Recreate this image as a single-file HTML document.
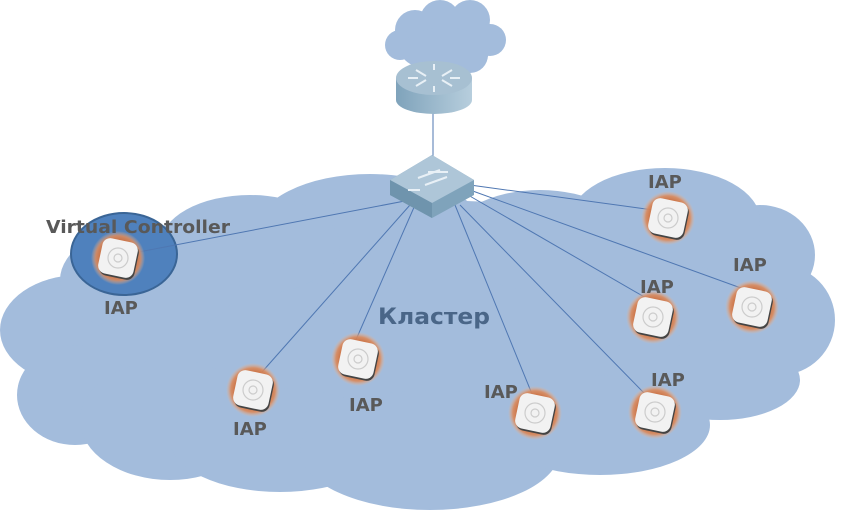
<!DOCTYPE html>
<html><head><style>
html,body{margin:0;padding:0;background:#fff;width:857px;height:513px;overflow:hidden}
text{font-family:"DejaVu Sans","Liberation Sans",sans-serif;font-weight:bold}
</style></head><body>
<svg width="857" height="513" viewBox="0 0 857 513" xmlns="http://www.w3.org/2000/svg">
<defs>
<radialGradient id="glow"><stop offset="0.6" stop-color="#c8693a"/><stop offset="0.82" stop-color="#db8a5c" stop-opacity="0.9"/><stop offset="1" stop-color="#e9b896" stop-opacity="0"/></radialGradient>
<linearGradient id="rt" x1="0" x2="1"><stop offset="0" stop-color="#7fa3bb"/><stop offset="1" stop-color="#b7cedd"/></linearGradient>
<g id="ap">
<circle r="27" fill="url(#glow)"/>
<rect x="-18" y="-18" width="36" height="36" rx="8" fill="#444" transform="translate(1,2) rotate(12)"/>
<rect x="-18" y="-18" width="36" height="36" rx="8" fill="#f2f2f2" transform="rotate(12)"/>
<circle r="10" fill="none" stroke="#ccc" stroke-width="1.2"/>
<circle r="4" fill="none" stroke="#ccc" stroke-width="1.2"/>
</g>
</defs>
<g fill="#a3bcdc">
<ellipse cx="420" cy="330" rx="380" ry="130"/>
<ellipse cx="80" cy="330" rx="80" ry="55"/>
<ellipse cx="75" cy="395" rx="58" ry="50"/>
<ellipse cx="170" cy="420" rx="90" ry="60"/>
<ellipse cx="280" cy="440" rx="110" ry="52"/>
<ellipse cx="430" cy="450" rx="130" ry="60"/>
<ellipse cx="600" cy="425" rx="110" ry="50"/>
<ellipse cx="720" cy="380" rx="80" ry="40"/>
<ellipse cx="780" cy="320" rx="55" ry="55"/>
<ellipse cx="760" cy="255" rx="55" ry="50"/>
<ellipse cx="665" cy="220" rx="95" ry="52"/>
<ellipse cx="540" cy="240" rx="90" ry="50"/>
<ellipse cx="370" cy="232" rx="115" ry="58"/>
<ellipse cx="250" cy="245" rx="90" ry="50"/>
<ellipse cx="150" cy="280" rx="90" ry="55"/>
<circle cx="415" cy="30" r="20"/><circle cx="440" cy="20" r="20"/><circle cx="470" cy="20" r="20"/>
<circle cx="490" cy="40" r="16"/><circle cx="400" cy="45" r="15"/><circle cx="470" cy="55" r="18"/>
<ellipse cx="445" cy="50" rx="45" ry="22"/>
</g>
<ellipse cx="124" cy="254" rx="53" ry="41" fill="#4f81bd" stroke="#3a6596" stroke-width="2"/>
<g stroke="#4f77b2" stroke-width="1">
<line x1="433" y1="110" x2="433" y2="160"/>
<line x1="410" y1="200" x2="118" y2="256"/>
<line x1="470" y1="185" x2="668" y2="212"/>
<line x1="470" y1="190" x2="752" y2="292"/>
<line x1="468" y1="195" x2="653" y2="302"/>
<line x1="415" y1="205" x2="355" y2="342"/>
<line x1="410" y1="205" x2="262" y2="372"/>
<line x1="455" y1="205" x2="532" y2="394"/>
<line x1="460" y1="205" x2="645" y2="394"/>
</g>
<rect x="396" y="78" width="76" height="22" fill="url(#rt)"/>
<ellipse cx="434" cy="100" rx="38" ry="14" fill="url(#rt)"/>
<ellipse cx="434" cy="78" rx="38" ry="17" fill="#a7c0d2"/>
<g stroke="#e8f0f6" stroke-width="2" fill="none"><path d="M416 70l10 6M452 70l-10 6M416 86l10-6M452 86l-10-6M434 64v6M434 92v-6M408 78h10M460 78h-10"/></g>
<polygon points="390,180 432,155 474,180 474,195 432,218 390,195" fill="#7fa3bb"/>
<polygon points="390,180 432,155 474,180 432,203" fill="#aec6d8"/>
<polygon points="390,180 432,203 432,218 390,195" fill="#6f94ad"/>
<g stroke="#e8f0f6" stroke-width="2"><path d="M418 178l22-8M425 185l22-8M428 172l20 0M420 190l-12 0"/></g>
<use href="#ap" x="118" y="258"/>
<use href="#ap" x="668" y="218"/>
<use href="#ap" x="752" y="307"/>
<use href="#ap" x="653" y="317"/>
<use href="#ap" x="358" y="359"/>
<use href="#ap" x="253" y="390"/>
<use href="#ap" x="535" y="413"/>
<use href="#ap" x="655" y="412"/>
<g fill="#595959" font-size="18">
<text x="46" y="233" textLength="184" lengthAdjust="spacingAndGlyphs">Virtual Controller</text>
<text x="104" y="314">IAP</text>
<text x="648" y="188">IAP</text>
<text x="733" y="271">IAP</text>
<text x="640" y="293">IAP</text>
<text x="349" y="411">IAP</text>
<text x="233" y="435">IAP</text>
<text x="484" y="398">IAP</text>
<text x="651" y="386">IAP</text>
</g>
<text x="378" y="324" font-size="22" fill="#4a6688" textLength="112" lengthAdjust="spacingAndGlyphs">Кластер</text>
</svg>
</body></html>
